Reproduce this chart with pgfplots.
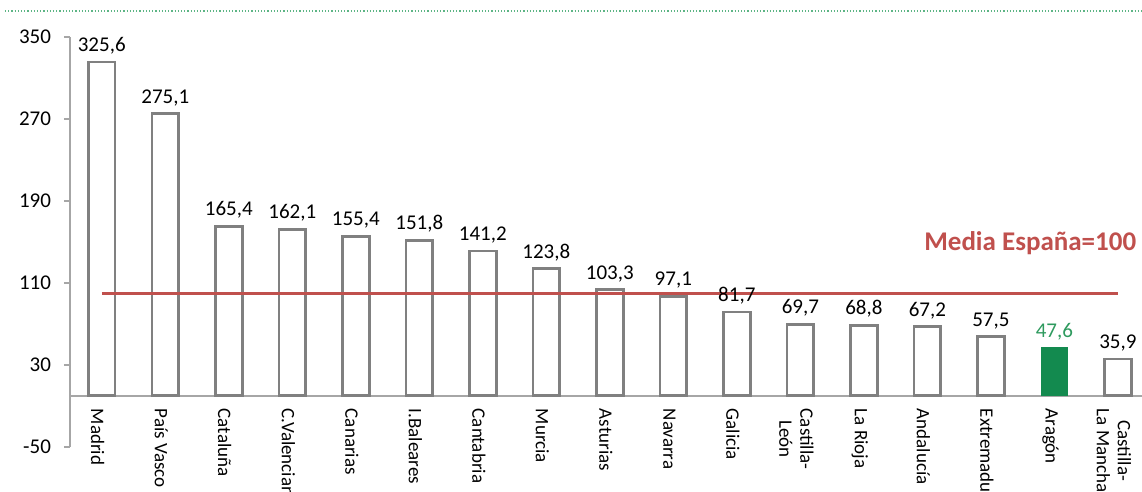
\documentclass[border=0pt]{standalone}
\usepackage{pgfplots}
\pgfplotsset{compat=1.18}
\usepackage{fontspec}
\setmainfont{Carlito}
\definecolor{bargray}{HTML}{808080}
\definecolor{axgray}{HTML}{A6A6A6}
\definecolor{redline}{HTML}{C0504D}
\definecolor{aragreen}{HTML}{138A4F}
\definecolor{aratext}{HTML}{2E9A5E}
\definecolor{dotgreen}{HTML}{5DB585}
\begin{document}
\begin{tikzpicture}
\begin{axis}[
  scale only axis,
  width=536pt, height=205pt,
  xmin=-0.5, xmax=16.38,
  ymin=-50, ymax=350,
  ytick={-50,30,110,190,270,350},
  axis y line*=left,
  axis x line*=middle,
  axis line style={axgray, line width=0.8pt},
  every tick/.style={axgray, line width=0.8pt},
  tick align=outside,
  major tick length=3pt,
  xtick={0,...,16},
  xticklabels={Madrid,País Vasco,Cataluña,C.Valenciana,Canarias,I.Baleares,Cantabria,Murcia,Asturias,Navarra,Galicia,{Castilla-\\León},La Rioja,Andalucía,Extremadura,Aragón,{Castilla-\\La Mancha}},
  x tick style={draw=none},
  minor xtick={-0.5,0.5,...,16.5},
  minor x tick style={axgray, line width=0.8pt},
  minor tick length=3pt,
  xticklabel style={rotate=-90, anchor=west, align=center, font=\fontsize{9.5}{10.5}\selectfont, yshift=-2pt},
  yticklabel style={font=\fontsize{10.5}{12}\selectfont, xshift=-3pt},
  /pgf/number format/assume math mode=true,
  clip=false,
  ybar, bar width=0.42,
]
\addplot[bar shift=0pt, draw=bargray, fill=white, line width=1.4pt,
  nodes near coords, nodes near coords style={font=\fontsize{10.5}{12}\selectfont, text=black, /pgf/number format/use comma, /pgf/number format/fixed, /pgf/number format/fixed zerofill, /pgf/number format/precision=1}] coordinates {
(0,325.6) (1,275.1) (2,165.4) (3,162.1) (4,155.4) (5,151.8) (6,141.2) (7,123.8) (8,103.3) (9,97.1) (10,81.7) (11,69.7) (12,68.8) (13,67.2) (14,57.5) (16,35.9)};
\addplot[bar shift=0pt, draw=none, fill=aragreen,
  nodes near coords, nodes near coords style={font=\fontsize{10.5}{12}\selectfont, text=aratext, /pgf/number format/use comma, /pgf/number format/fixed, /pgf/number format/fixed zerofill, /pgf/number format/precision=1}] coordinates {(15,47.6)};
\addplot[sharp plot, redline, line width=1.3pt] coordinates {(0,100) (16,100)};
\node[text=redline, font=\fontsize{13.5}{15}\selectfont\bfseries] at (axis cs:14.62,149) {Media España=100};
\coordinate (bl) at (rel axis cs:0,0);
\end{axis}
\draw[dotgreen, densely dotted, line width=0.6pt] ([shift={(-32.5pt,218pt)}]bl) -- ([shift={(536pt,218pt)}]bl);
\pgfresetboundingbox
\path[use as bounding box] ([shift={(-35pt,-22.5pt)}]bl) rectangle ([shift={(536pt,223.5pt)}]bl);
\end{tikzpicture}
\end{document}
